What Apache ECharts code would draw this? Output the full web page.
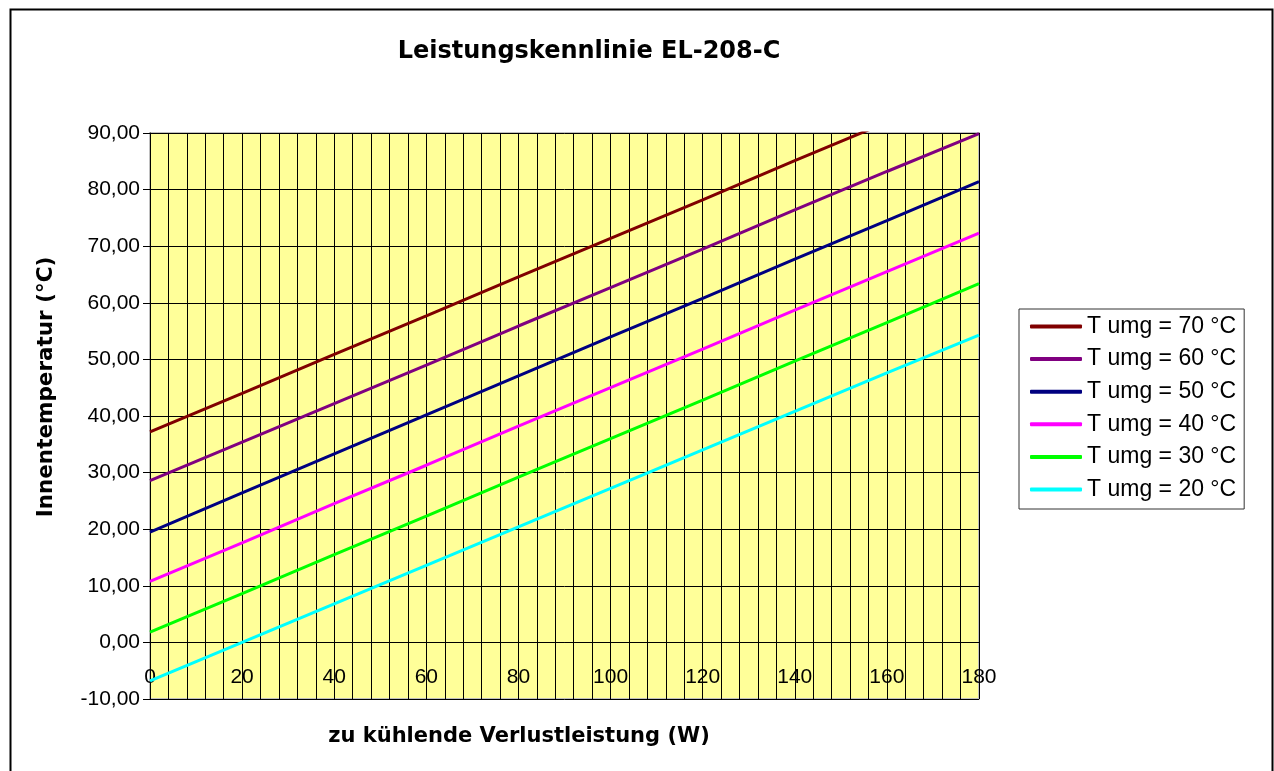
<!DOCTYPE html>
<html>
<head>
<meta charset="utf-8">
<script src="https://cdn.jsdelivr.net/npm/echarts@6/dist/echarts.min.js"></script>
<style>
html,body{margin:0;padding:0;background:#fff;}
#chart{width:1274px;height:771px;}
</style>
</head>
<body>
<div id="chart"></div>
<script>
// x categories (W), every gridline step
const categories = ['0','4','8','12','16','20','24','28','32','36','40','44','48','52','56','60','64','68','72','76','80','84','88','92','96','100','104','108','112','116','120','124','128','132','136','140','144','148','152','156','160','164','168','172','176','180'];
// points read at labelled x positions
const xRead = ['0','20','40','60','80','100','120','140','160','180'];
const t70 = [37.2, 44.0, 50.9, 57.7, 64.6, 71.4, 78.2, 85.1, 91.9, 98.8];
const t60 = [28.6, 35.4, 42.2, 49.0, 55.9, 62.7, 69.5, 76.4, 83.2, 89.9];
const t50 = [19.5, 26.4, 33.3, 40.2, 47.1, 54.0, 60.8, 67.7, 74.5, 81.4];
const t40 = [10.8, 17.6, 24.5, 31.3, 38.2, 45.0, 51.8, 58.7, 65.5, 72.3];
const t30 = [1.8, 8.6, 15.5, 22.3, 29.2, 36.0, 42.8, 49.7, 56.5, 63.4];
const t20 = [-6.8, 0.0, 6.8, 13.6, 20.4, 27.2, 34.0, 40.8, 47.6, 54.3];
const seriesNames = ['T umg = 70 °C','T umg = 60 °C','T umg = 50 °C','T umg = 40 °C','T umg = 30 °C','T umg = 20 °C'];
const seriesData = [t70, t60, t50, t40, t30, t20];
const colors = ['#800000','#800080','#000080','#FF00FF','#00FF00','#00FFFF'];

const chart = echarts.init(document.getElementById('chart'), null, {renderer:'canvas'});
const font = 'Arial, "Liberation Sans", sans-serif';
const boldFont = '"DejaVu Sans", Arial, sans-serif';

const series = seriesNames.map((n, i) => ({
  name: n,
  type: 'line',
  data: xRead.map((x, j) => [x, seriesData[i][j]]),
  showSymbol: false,
  symbol: 'none',
  clip: true,
  lineStyle: {color: colors[i], width: 3},
  itemStyle: {color: colors[i]},
  z: 10 - i
}));

const gridTop = 133, gridBottom = 72, H = 771;
const yMin = -10, yMax = 90;
const zeroOffset = -(0 - yMin) / (yMax - yMin) * (H - gridTop - gridBottom);

chart.setOption({
  animation: false,
  backgroundColor: '#fff',
  textStyle: {fontFamily: font},
  title: {
    text: 'Leistungskennlinie EL-208-C',
    left: 584, top: 35, textAlign: 'center',
    textStyle: {fontFamily: boldFont, fontSize: 24, fontWeight: 'bold', color: '#000'}
  },
  graphic: [{
    type: 'rect', shape: {x: 10.5, y: 9.5, width: 1262, height: 780},
    style: {fill: 'none', stroke: '#000', lineWidth: 2}, silent: true, z: -1
  }],
  legend: {
    orient: 'vertical',
    left: 1019, top: 309,
    padding: [6, 8, 8, 11],
    itemGap: 9.6,
    itemWidth: 52, itemHeight: 4,
    icon: 'roundRect',
    borderColor: '#333', borderWidth: 1,
    backgroundColor: '#fff',
    textStyle: {fontFamily: font, fontSize: 23, color: '#000', lineHeight: 22},
    data: seriesNames
  },
  grid: {
    left: 150, right: 295, top: gridTop, bottom: gridBottom,
    show: true, backgroundColor: '#FFFF99', borderColor: '#c0c0c0', borderWidth: 2
  },
  xAxis: {
    type: 'category',
    data: categories,
    boundaryGap: false,
    position: 'bottom',
    offset: zeroOffset,
    name: 'zu kühlende Verlustleistung (W)',
    nameLocation: 'middle',
    nameGap: 84,
    nameTextStyle: {fontFamily: boldFont, fontSize: 21, fontWeight: 'bold', color: '#000', padding: [0, 91, 0, 0]},
    axisLine: {onZero: false, lineStyle: {color: '#000', width: 1}},
    axisTick: {show: true, interval: 4, length: 7, inside: false, lineStyle: {color: '#000'}},
    axisLabel: {interval: 4, fontFamily: font, fontSize: 21, color: '#000', margin: 24},
    splitLine: {show: true, interval: 0, lineStyle: {color: '#000', width: 1}}
  },
  yAxis: {
    type: 'value',
    min: yMin, max: yMax, interval: 10,
    name: 'Innentemperatur (°C)',
    nameLocation: 'middle',
    nameGap: 93,
    nameTextStyle: {fontFamily: boldFont, fontSize: 21.5, fontWeight: 'bold', color: '#000', padding: [0, 0, 0, 58]},
    axisLine: {show: true, onZero: false, lineStyle: {color: '#000', width: 1}},
    axisTick: {show: true, length: 7, lineStyle: {color: '#000'}},
    axisLabel: {
      fontFamily: font, fontSize: 21, color: '#000', margin: 10,
      formatter: v => v.toFixed(2).replace('.', ',')
    },
    splitLine: {show: true, lineStyle: {color: '#000', width: 1}}
  },
  series: series
});
</script>
</body>
</html>
